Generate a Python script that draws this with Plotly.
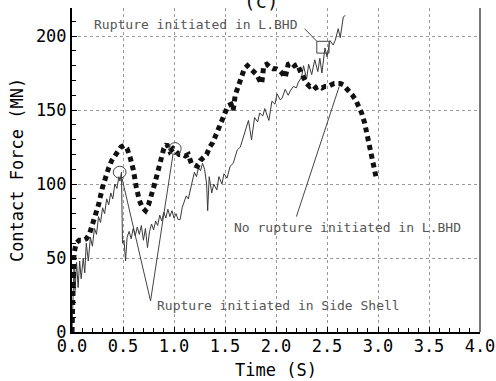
import plotly.graph_objects as go

# Dashed series: no rupture initiated in L.BHD
time_no_rupture = [0.0, 0.005, 0.01, 0.02, 0.04, 0.07, 0.11, 0.14, 0.17, 0.20, 0.23, 0.26, 0.30, 0.33,
                   0.36, 0.39, 0.42, 0.45, 0.48, 0.51, 0.54, 0.57, 0.60, 0.63, 0.66, 0.69, 0.72, 0.75,
                   0.78, 0.81, 0.84, 0.87, 0.90, 0.93, 0.96, 0.99, 1.02, 1.05, 1.08, 1.11, 1.14, 1.17,
                   1.20, 1.23, 1.26, 1.29, 1.32, 1.35, 1.38, 1.41, 1.44, 1.47, 1.50, 1.53, 1.56, 1.58,
                   1.60, 1.63, 1.66, 1.69, 1.72, 1.75, 1.78, 1.81, 1.84, 1.86, 1.88, 1.91, 1.94, 1.97,
                   2.00, 2.03, 2.06, 2.09, 2.12, 2.15, 2.18, 2.21, 2.24, 2.27, 2.30, 2.33, 2.36, 2.39,
                   2.42, 2.45, 2.48, 2.51, 2.54, 2.57, 2.60, 2.63, 2.66, 2.69, 2.72, 2.75, 2.78, 2.81,
                   2.84, 2.87, 2.90, 2.93, 2.96, 2.98]
force_no_rupture = [0, 20, 40, 53, 60, 62, 62, 63, 66, 72, 78, 86, 98, 105,
                    111, 116, 119, 122, 125, 126, 124, 118, 110, 98, 89, 84, 82, 86,
                    92, 100, 108, 116, 124, 127, 122, 124, 122, 120, 120, 119, 120, 114,
                    113, 112, 116, 118, 120, 125, 128, 133, 138, 144, 150, 153, 154, 150,
                    160, 166, 174, 178, 180, 178, 176, 174, 170, 168, 180, 181, 179, 178,
                    178, 177, 175, 172, 181, 182, 180, 181, 176, 172, 168, 166, 167, 165,
                    166, 165, 166, 166, 167, 168, 168, 168, 167, 165, 163, 160, 157, 153,
                    148, 141, 132, 122, 112, 105]

# Thin series: rupture initiated in L.BHD
time_rupture = [0.00, 0.01, 0.02, 0.03, 0.045, 0.06, 0.075, 0.09, 0.11, 0.125, 0.14, 0.16, 0.18, 0.20,
                0.22, 0.24, 0.26, 0.28, 0.30, 0.32, 0.34, 0.36, 0.38, 0.40, 0.42, 0.44, 0.46, 0.47,
                0.485, 0.495, 0.51, 0.525, 0.54, 0.56, 0.58, 0.60, 0.62, 0.64, 0.66, 0.68, 0.70, 0.72,
                0.74, 0.76, 0.78, 0.80, 0.82, 0.84, 0.86, 0.88, 0.90, 0.92, 0.94, 0.96, 0.98, 1.00,
                1.02, 1.04, 1.06, 1.08, 1.10, 1.12, 1.14, 1.16, 1.18, 1.20, 1.22, 1.24, 1.26, 1.28,
                1.30, 1.31, 1.32, 1.33, 1.345, 1.37, 1.39, 1.42, 1.44, 1.47, 1.49, 1.52, 1.55, 1.58,
                1.60, 1.62, 1.65, 1.68, 1.70, 1.73, 1.76, 1.79, 1.82, 1.84, 1.87, 1.89, 1.93, 1.96,
                1.99, 2.01, 2.04, 2.06, 2.09, 2.12, 2.14, 2.17, 2.20, 2.22, 2.25, 2.27, 2.30, 2.32,
                2.35, 2.38, 2.41, 2.43, 2.45, 2.48, 2.50, 2.53, 2.56, 2.58, 2.61, 2.63, 2.66, 2.68]
force_rupture = [0, 30, 45, 28, 47, 30, 48, 36, 50, 40, 60, 48, 64, 58,
                 70, 66, 78, 74, 84, 80, 90, 86, 94, 90, 100, 97, 105, 102,
                 108, 60, 62, 48, 64, 68, 63, 70, 65, 71, 66, 72, 62, 70,
                 57, 68, 73, 69, 75, 72, 79, 75, 81, 77, 83, 78, 82, 77,
                 80, 76, 76, 84, 88, 92, 90, 96, 104, 108, 105, 111, 109, 114,
                 110, 105, 100, 82, 105, 94, 100, 96, 105, 100, 107, 104, 112, 114,
                 118, 123, 125, 132, 136, 143, 130, 145, 142, 148, 146, 151, 143, 156,
                 154, 161, 157, 158, 164, 160, 163, 166, 165, 169, 172, 180, 171, 181,
                 174, 184, 176, 185, 175, 192, 186, 197, 194, 197, 205, 199, 213, 214]

x_ticks = [0.0, 0.5, 1.0, 1.5, 2.0, 2.5, 3.0, 3.5, 4.0]
x_tick_labels = ["0.0", "0.5", "1.0", "1.5", "2.0", "2.5", "3.0", "3.5", "4.0"]
y_ticks = [0, 50, 100, 150, 200]

MONO = "DejaVu Sans Mono"
ANN_COLOR = "#555555"

fig = go.Figure()
fig.add_trace(go.Scatter(x=time_rupture, y=force_rupture, mode="lines",
                         line=dict(color="#3a3a3a", width=1), name="Rupture initiated in L.BHD",
                         showlegend=False))
fig.add_trace(go.Scatter(x=time_no_rupture, y=force_no_rupture, mode="lines",
                         line=dict(color="#111111", width=5, dash="5px,4px"),
                         name="No rupture initiated in L.BHD", showlegend=False))

# markers / leader lines
shapes = [
    dict(type="circle", xref="x", yref="y", x0=0.405, x1=0.53, y0=104, y1=112,
         line=dict(color="#444", width=1)),
    dict(type="circle", xref="x", yref="y", x0=0.95, x1=1.07, y0=120, y1=128,
         line=dict(color="#444", width=1)),
    dict(type="line", xref="x", yref="y", x0=0.49, y0=104, x1=0.77, y1=21,
         line=dict(color="#444", width=1)),
    dict(type="line", xref="x", yref="y", x0=0.77, y0=21, x1=0.99, y1=120,
         line=dict(color="#444", width=1)),
    dict(type="rect", xref="x", yref="y", x0=2.40, x1=2.52, y0=188.5, y1=196.5,
         line=dict(color="#444", width=1)),
    dict(type="line", xref="x", yref="y", x0=2.28, y0=205, x1=2.40, y1=196.5,
         line=dict(color="#444", width=1)),
    dict(type="line", xref="x", yref="y", x0=2.20, y0=78, x1=2.62, y1=166,
         line=dict(color="#444", width=1)),
    dict(type="line", xref="paper", yref="paper", x0=1, x1=1, y0=0, y1=1,
         line=dict(color="#777", width=2)),
]

annotations = [
    dict(x=0.196, y=208, xref="x", yref="y", text="Rupture initiated in L.BHD", showarrow=False,
         xanchor="left", yanchor="middle", font=dict(family=MONO, size=13, color=ANN_COLOR)),
    dict(x=1.566, y=70.5, xref="x", yref="y", text="No rupture initiated in L.BHD", showarrow=False,
         xanchor="left", yanchor="middle", font=dict(family=MONO, size=13, color=ANN_COLOR)),
    dict(x=0.814, y=18, xref="x", yref="y", text="Rupture initiated in Side Shell", showarrow=False,
         xanchor="left", yanchor="middle", font=dict(family=MONO, size=13, color=ANN_COLOR)),
    dict(x=0.463, y=0.98, xref="paper", yref="paper", text="(c)", showarrow=False,
         xanchor="center", yanchor="bottom", font=dict(family=MONO, size=19, color="#111")),
]

fig.update_layout(
    width=496, height=381,
    margin=dict(l=72, r=16, t=8, b=49),
    paper_bgcolor="white", plot_bgcolor="white",
    shapes=shapes, annotations=annotations,
    showlegend=False,
)
fig.update_xaxes(
    range=[0, 4.0], tickvals=x_ticks, ticktext=x_tick_labels,
    automargin=False,
    showline=True, linecolor="black", linewidth=2,
    ticks="inside", ticklen=5, tickcolor="black", tickwidth=1,
    minor=dict(dtick=0.1, ticks="inside", ticklen=4, tickcolor="black", showgrid=False),
    showgrid=True, gridcolor="#9a9a9a", griddash="dot", gridwidth=1,
    zeroline=False,
    ticklabelstandoff=-2,
    tickfont=dict(family=MONO, size=17, color="black"),
    title=dict(text="Time (S)", font=dict(family=MONO, size=17, color="black"), standoff=9),
)
fig.update_yaxes(
    range=[0, 219], tickvals=y_ticks,
    automargin=False,
    showline=True, linecolor="black", linewidth=2,
    ticks="inside", ticklen=5, tickcolor="black", tickwidth=1,
    minor=dict(dtick=10, ticks="inside", ticklen=4, tickcolor="black", showgrid=False),
    showgrid=True, gridcolor="#9a9a9a", griddash="dot", gridwidth=1,
    zeroline=False,
    tickfont=dict(family=MONO, size=17, color="black"),
    title=dict(text="Contact Force (MN)", font=dict(family=MONO, size=17, color="black"), standoff=8),
)

fig.write_html("out.html", config={"displayModeBar": False},
               post_script="document.body.style.margin='0px';")
